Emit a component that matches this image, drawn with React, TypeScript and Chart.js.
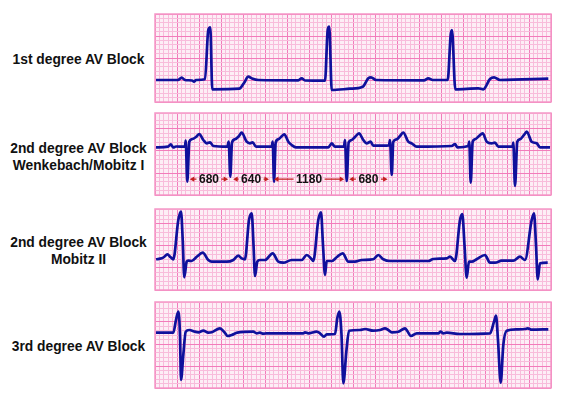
import { useEffect, useRef } from "react";
import { Chart, registerables } from "chart.js";

Chart.register(...registerables);

// Paper is ruled in 1 mm squares, 4.4 px each; heavy line every 5 mm.
const MM_PX = 4.4;
const STRIP_WIDTH_MM = 90;
const MS_PER_MM = 69;

// Traces as [time along paper (mm), amplitude above strip bottom (mm)].
const firstDegreeTrace: [number, number][] = [
  [0.23, 5.0], [5.23, 5.0], [6.07, 5.52], [6.82, 5.0], [8.41, 4.89], [8.86, 4.61], [9.32, 5.0],
  [11.36, 5.16], [12.11, 16.36], [12.57, 16.98], [13.02, 2.89], [19.16, 3.02], [20.23, 4.32],
  [21.2, 5.75], [22.05, 5.34], [23.48, 5.0], [32.57, 4.93], [33.34, 5.39], [34.09, 4.89],
  [38.64, 4.84], [39.25, 16.36], [39.61, 17.11], [40.16, 2.73], [44.32, 3.02], [47.2, 3.48],
  [48.48, 5.39], [49.09, 5.61], [50.23, 5.0], [61.14, 4.93], [62.11, 5.39], [63.11, 5.0],
  [66.52, 5.0], [67.2, 15.23], [67.5, 16.36], [68.25, 2.89], [73.48, 3.11], [74.61, 2.89],
  [76.14, 5.23], [77.05, 5.61], [78.41, 5.0], [89.39, 5.3],
];

const wenckebachTrace: [number, number][] = [
  [0.23, 10.84], [2.95, 10.98], [3.57, 11.52], [4.16, 10.84], [4.77, 11.02], [6.82, 10.98],
  [6.98, 12.34], [7.34, 3.02], [7.8, 12.11], [8.34, 12.66], [9.32, 13.18], [10.07, 13.86],
  [10.98, 12.5], [11.75, 11.75], [12.5, 11.98], [13.25, 11.14], [16.43, 10.98], [16.75, 12.11],
  [17.11, 4.16], [17.5, 11.89], [18.18, 12.66], [19.09, 13.41], [19.7, 14.16], [20.84, 12.11],
  [21.59, 11.75], [22.2, 11.98], [22.95, 10.98], [26.52, 10.98], [26.75, 12.11], [27.05, 3.02],
  [27.43, 11.89], [28.02, 12.66], [28.64, 13.18], [29.39, 13.8], [30.3, 12.11], [31.07, 11.36],
  [32.05, 10.84], [39.39, 10.84], [40.16, 11.75], [40.91, 10.98], [42.95, 10.98], [43.18, 12.5],
  [43.57, 3.18], [44.02, 11.98], [44.7, 12.5], [45.45, 13.18], [46.36, 14.02], [47.34, 12.5],
  [48.11, 11.75], [49.02, 12.11], [49.61, 11.2], [53.18, 11.3], [53.41, 12.5], [53.8, 4.55],
  [54.16, 12.11], [54.93, 12.66], [55.68, 13.41], [56.43, 14.16], [57.57, 12.11], [58.34, 11.75],
  [59.48, 10.98], [67.43, 11.14], [68.18, 11.59], [68.7, 10.84], [71.2, 11.14], [71.43, 12.11],
  [71.75, 2.8], [72.2, 12.11], [72.73, 12.66], [73.64, 13.41], [74.48, 14.02], [75.39, 12.11],
  [76.52, 11.75], [77.27, 11.89], [78.02, 10.98], [81.3, 10.98], [81.43, 11.89], [81.82, 2.05],
  [82.34, 12.11], [82.95, 12.66], [83.86, 13.64], [84.48, 14.39], [85.61, 12.11], [86.75, 11.75],
  [87.5, 10.84], [89.77, 10.84],
];

const mobitzTwoTrace: [number, number][] = [
  [0.23, 6.98], [1.52, 7.2], [2.05, 7.5], [2.8, 8.11], [3.57, 7.43], [4.16, 6.98], [5.3, 15.91],
  [5.91, 17.8], [6.3, 11.36], [6.66, 2.89], [7.2, 6.43], [7.57, 6.66], [8.34, 6.59], [9.55, 7.61],
  [10.84, 8.48], [12.11, 6.82], [12.89, 6.43], [16.3, 6.43], [17.8, 6.82], [18.93, 7.8],
  [19.7, 7.2], [20.45, 6.98], [21.36, 15.91], [21.98, 17.43], [22.39, 10.23], [22.73, 3.18],
  [23.25, 6.43], [23.86, 6.82], [25.0, 6.82], [26.75, 8.34], [28.02, 6.43], [29.16, 6.2],
  [31.07, 6.82], [33.34, 6.82], [34.48, 7.95], [35.61, 6.98], [35.98, 6.59], [37.11, 15.91],
  [37.73, 17.66], [38.18, 10.23], [38.64, 3.41], [39.02, 6.59], [40.16, 6.59], [41.36, 7.5],
  [42.66, 8.34], [43.93, 6.43], [45.45, 6.43], [46.98, 6.82], [49.61, 6.98], [50.75, 7.95],
  [51.89, 6.98], [53.41, 6.59], [62.11, 6.59], [63.25, 7.05], [66.3, 7.2], [67.05, 7.57],
  [68.18, 6.59], [69.32, 15.91], [69.84, 17.27], [70.34, 10.23], [70.84, 2.8], [71.36, 6.43],
  [71.98, 6.43], [73.18, 7.05], [75.0, 7.95], [76.14, 6.2], [77.27, 6.2], [78.8, 6.66],
  [81.43, 6.66], [82.95, 7.57], [84.09, 6.82], [85.61, 15.91], [86.14, 17.43], [86.59, 10.23],
  [86.98, 2.43], [87.5, 6.07], [89.25, 6.2],
];

const thirdDegreeTrace: [number, number][] = [
  [0.23, 12.57], [4.16, 12.57], [4.77, 15.45], [5.3, 17.34], [5.68, 12.05], [5.91, 1.82],
  [6.43, 7.5], [6.98, 12.8], [7.8, 13.18], [9.09, 12.8], [9.84, 12.66], [10.98, 13.02],
  [12.11, 12.57], [12.89, 12.66], [14.77, 13.57], [15.68, 12.8], [16.52, 11.82], [17.43, 12.05],
  [18.7, 12.57], [22.34, 12.8], [23.11, 12.43], [23.86, 12.57], [24.61, 12.34], [25.39, 12.43],
  [33.7, 12.43], [34.09, 12.66], [34.84, 12.43], [36.75, 12.8], [37.5, 12.43], [38.41, 11.66],
  [39.02, 12.2], [40.91, 12.27], [41.43, 15.84], [41.89, 17.34], [42.39, 12.05], [42.8, 1.07],
  [43.52, 8.64], [44.09, 13.02], [46.59, 13.18], [47.73, 13.41], [49.61, 13.02], [51.14, 13.18],
  [52.27, 13.57], [53.02, 13.18], [53.8, 12.66], [55.3, 12.8], [56.82, 13.57], [57.34, 12.95],
  [58.18, 11.82], [59.48, 12.43], [64.39, 12.43], [64.93, 12.8], [65.52, 12.43], [66.3, 12.57],
  [69.32, 12.27], [76.14, 12.43], [77.05, 15.07], [77.5, 16.43], [77.95, 10.91], [78.57, 1.2],
  [79.16, 9.77], [79.93, 13.02], [82.2, 13.34], [84.09, 13.41], [84.7, 13.57], [85.61, 13.25],
  [89.39, 13.34],
];

// R-R intervals (ms) marked under the Wenckebach strip, starting at its first QRS.
const wenckebachIntervals = [680, 640, 1180, 680];
const wenckebachFirstQrs = 7.34;
const intervalLevel = 3.6;

const firstDegreeLabel = ["1st degree AV Block"];
const wenckebachLabel = ["2nd degree AV Block", "Wenkebach/Mobitz I"];
const mobitzTwoLabel = ["2nd degree AV Block", "Mobitz II"];
const thirdDegreeLabel = ["3rd degree AV Block"];

const TRACE_COLOR = "#10109c";
const PAPER_COLOR = "#fdeef6";
const MINOR_COLOR = "#f8bcdb";
const MAJOR_COLOR = "#f27cbb";
const FRAME_COLOR = "#f598c8";
const ARROW_COLOR = "#c41e1e";
const FONT = '"Liberation Sans", Arial, Helvetica, sans-serif';

const PAD = 2;

const paperPlugin = {
  id: "paper",
  beforeDraw(chart: any) {
    const { ctx, chartArea: a } = chart;
    ctx.save();
    ctx.fillStyle = PAPER_COLOR;
    ctx.fillRect(a.left, a.top, a.right - a.left, a.bottom - a.top);
    ctx.restore();
  },
  beforeDatasetsDraw(chart: any) {
    const { ctx, chartArea: a } = chart;
    ctx.save();
    ctx.strokeStyle = FRAME_COLOR;
    ctx.lineWidth = 1.5;
    ctx.strokeRect(a.left, a.top, a.right - a.left, a.bottom - a.top);
    ctx.restore();
  },
};

const intervalPlugin = {
  id: "intervals",
  afterDatasetsDraw(chart: any) {
    const { ctx } = chart;
    const x = chart.scales.x;
    const y = chart.scales.y;
    const yPx = y.getPixelForValue(intervalLevel);
    ctx.save();
    ctx.font = `bold 12px ${FONT}`;
    ctx.textAlign = "center";
    ctx.textBaseline = "middle";
    let t = wenckebachFirstQrs;
    for (const ms of wenckebachIntervals) {
      const next = t + ms / MS_PER_MM;
      const x0 = x.getPixelForValue(t) + 2.5;
      const x1 = x.getPixelForValue(next) - 2.5;
      const mid = (x0 + x1) / 2;
      const label = String(ms);
      const half = ctx.measureText(label).width / 2 + 2.5;
      ctx.strokeStyle = ARROW_COLOR;
      ctx.lineWidth = 1.4;
      ctx.beginPath();
      ctx.moveTo(x0 + 3, yPx);
      ctx.lineTo(mid - half, yPx);
      ctx.moveTo(mid + half, yPx);
      ctx.lineTo(x1 - 3, yPx);
      ctx.stroke();
      ctx.fillStyle = ARROW_COLOR;
      ctx.beginPath();
      ctx.moveTo(x0, yPx);
      ctx.lineTo(x0 + 4.5, yPx - 2.6);
      ctx.lineTo(x0 + 4.5, yPx + 2.6);
      ctx.closePath();
      ctx.fill();
      ctx.beginPath();
      ctx.moveTo(x1, yPx);
      ctx.lineTo(x1 - 4.5, yPx - 2.6);
      ctx.lineTo(x1 - 4.5, yPx + 2.6);
      ctx.closePath();
      ctx.fill();
      ctx.fillStyle = "#111";
      ctx.fillText(label, mid, yPx + 0.5);
      t = next;
    }
    ctx.restore();
  },
};

const gridColor = (c: any) => {
  const v = c.tick ? c.tick.value : 0;
  return Math.abs(v / 5 - Math.round(v / 5)) < 1e-6 ? MAJOR_COLOR : MINOR_COLOR;
};

type StripProps = {
  trace: [number, number][];
  left: number;
  top: number;
  heightMm: number;
  intervals?: boolean;
};

function Strip({ trace, left, top, heightMm, intervals }: StripProps) {
  const ref = useRef<HTMLCanvasElement>(null);
  const w = Math.round(STRIP_WIDTH_MM * MM_PX) + 2 * PAD;
  const h = Math.round(heightMm * MM_PX) + 2 * PAD;

  useEffect(() => {
    const axis = (max: number) => ({
      type: "linear" as const,
      min: 0,
      max,
      ticks: { display: false, stepSize: 1, autoSkip: false },
      grid: { color: gridColor, lineWidth: 1, drawTicks: false, tickLength: 0 },
      border: { display: false },
    });
    const chart = new Chart(ref.current!, {
      type: "line",
      data: {
        datasets: [
          {
            data: trace.map(([x, y]) => ({ x, y })),
            borderColor: TRACE_COLOR,
            borderWidth: 2.7,
            pointRadius: 0,
            cubicInterpolationMode: "monotone",
            fill: false,
          },
        ],
      },
      options: {
        animation: false,
        responsive: false,
        devicePixelRatio: 1,
        events: [],
        layout: { padding: PAD },
        plugins: { legend: { display: false }, tooltip: { enabled: false } },
        scales: { x: axis(STRIP_WIDTH_MM), y: axis(heightMm) },
      },
      plugins: intervals ? [paperPlugin, intervalPlugin] : [paperPlugin],
    } as any);
    return () => chart.destroy();
  }, []);

  return (
    <canvas
      ref={ref}
      width={w}
      height={h}
      style={{ position: "absolute", left: left - PAD, top: top - PAD, width: w, height: h }}
    />
  );
}

function Label({ lines, top }: { lines: string[]; top: number }) {
  return (
    <div
      style={{
        position: "absolute",
        left: 0,
        top,
        width: 157,
        textAlign: "center",
        font: `bold 13.8px ${FONT}`,
        lineHeight: "16.7px",
        color: "#111",
        whiteSpace: "nowrap",
      }}
    >
      {lines.map((l, i) => (
        <div key={i}>{l}</div>
      ))}
    </div>
  );
}

export default function App() {
  return (
    <div
      style={{
        position: "fixed",
        left: 0,
        top: 0,
        width: 564,
        height: 401,
        background: "#fff",
        overflow: "hidden",
      }}
    >
      <Label lines={firstDegreeLabel} top={51.5} />
      <Label lines={wenckebachLabel} top={141} />
      <Label lines={mobitzTwoLabel} top={235} />
      <Label lines={thirdDegreeLabel} top={339} />
      <Strip trace={firstDegreeTrace} left={155} top={14} heightMm={20} />
      <Strip trace={wenckebachTrace} left={155} top={113} heightMm={82 / MM_PX} intervals />
      <Strip trace={mobitzTwoTrace} left={155} top={209} heightMm={81 / MM_PX} />
      <Strip trace={thirdDegreeTrace} left={155} top={302} heightMm={86 / MM_PX} />
    </div>
  );
}
